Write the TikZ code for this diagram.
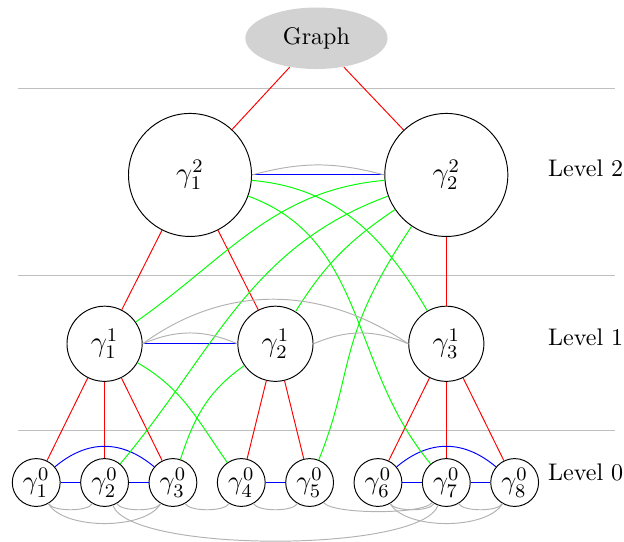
\documentclass[tikz,border=0pt]{standalone}
\usepackage{amsmath,amssymb}
\usetikzlibrary{positioning,shapes.geometric}

\begin{document}
\begin{tikzpicture}[
  lv0/.style={draw, circle, minimum size=0.7cm, inner sep=0pt, font=\fontsize{11}{13}\selectfont},
  lv1/.style={draw, circle, minimum size=1.1cm, inner sep=0pt, font=\large},
  lv2/.style={draw, circle, minimum size=1.8cm, inner sep=0pt, font=\large},
  redge/.style={red},
  bedge/.style={blue},
  gedge/.style={green},
  aedge/.style={gray!60},
  sep/.style={gray!50}]
  \useasboundingbox (-0.53,-0.86) rectangle (8.6,7.06);

  % levels
  \draw[sep] (-0.26,5.76) -- (8.47,5.76);
  \draw[sep] (-0.26,3.03) -- (8.47,3.03);
  \draw[sep] (-0.26,0.76) -- (8.47,0.76);

  \node[ellipse, fill=gray!35, minimum width=2.08cm, minimum height=0.9cm] (graph) at (4.1,6.5) {Graph};

  \node[lv2] (g12) at (2.25,4.5) {$\gamma^2_1$};
  \node[lv2] (g22) at (6,4.5) {$\gamma^2_2$};

  \node[lv1] (g11) at (1,2.03) {$\gamma^1_1$};
  \node[lv1] (g21) at (3.5,2.03) {$\gamma^1_2$};
  \node[lv1] (g31) at (6,2.03) {$\gamma^1_3$};

  \node[lv0] (g01) at (0,0) {$\gamma^0_1$};
  \node[lv0] (g02) at (1,0) {$\gamma^0_2$};
  \node[lv0] (g03) at (2,0) {$\gamma^0_3$};
  \node[lv0] (g04) at (3,0) {$\gamma^0_4$};
  \node[lv0] (g05) at (4,0) {$\gamma^0_5$};
  \node[lv0] (g06) at (5,0) {$\gamma^0_6$};
  \node[lv0] (g07) at (6,0) {$\gamma^0_7$};
  \node[lv0] (g08) at (7,0) {$\gamma^0_8$};

  \node (lab2) at (8.04,4.6) {Level 2};
  \node (lab1) at (8.04,2.13) {Level 1};
  \node (lab0) at (8.04,0.15) {Level 0};

  % tree
  \draw[redge] (graph) -- (g12);
  \draw[redge] (graph) -- (g22);
  \draw[redge] (g12) -- (g11);
  \draw[redge] (g12) -- (g21);
  \draw[redge] (g22) -- (g31);
  \draw[redge] (g11) -- (g01);
  \draw[redge] (g11) -- (g02);
  \draw[redge] (g11) -- (g03);
  \draw[redge] (g21) -- (g04);
  \draw[redge] (g21) -- (g05);
  \draw[redge] (g31) -- (g06);
  \draw[redge] (g31) -- (g07);
  \draw[redge] (g31) -- (g08);

  % same parent
  \draw[bedge] (g12) -- (g22);
  \draw[bedge] (g11) -- (g21);
  \draw[bedge] (g01) -- (g02);
  \draw[bedge] (g02) -- (g03);
  \draw[bedge] (g01) to[out=40, in=140, looseness=1.1] (g03);
  \draw[bedge] (g04) -- (g05);
  \draw[bedge] (g06) -- (g07);
  \draw[bedge] (g07) -- (g08);
  \draw[bedge] (g06) to[out=40, in=140, looseness=1.1] (g08);

  % across levels
  \draw[gedge] (g12) to[out=-5, in=120] (g31);
  \draw[gedge] (g12) to[out=-20, in=130] (g07);
  \draw[gedge] (g22) to[out=185, in=35] (g11);
  \draw[gedge] (g22) to[out=200, in=50] (g02);
  \draw[gedge] (g22) to[out=214, in=58] (g21);
  \draw[gedge] (g22) to[out=236, in=68, out looseness=1.4] (g05);
  \draw[gedge] (g11) to[out=-30, in=125] (g04);
  \draw[gedge] (g21) to[out=215, in=72] (g03);

  % weak links
  \draw[aedge] (g12.east) to[out=15, in=165] (g22.west);
  \draw[aedge] (g11.east) to[out=23, in=157] (g21.west);
  \draw[aedge] (g11.east) to[out=36, in=146] (g31.west);
  \draw[aedge] (g21.east) to[out=23, in=157] (g31.west);
  \draw[aedge] (g01) to[out=-60, in=-120, looseness=0.55] (g02);
  \draw[aedge] (g01) to[out=-60, in=-120, looseness=0.7] (g03);
  \draw[aedge] (g02) to[out=-60, in=-120, looseness=0.55] (g03);
  \draw[aedge] (g02) to[out=-70, in=-110, looseness=0.4] (g07);
  \draw[aedge] (g03) to[out=-60, in=-120, looseness=0.55] (g04);
  \draw[aedge] (g04) to[out=-60, in=-120, looseness=0.55] (g05);
  \draw[aedge] (g05) to[out=-55, in=-125, looseness=0.35] (g07);
  \draw[aedge] (g06) to[out=-60, in=-120, looseness=0.55] (g07);
  \draw[aedge] (g06) to[out=-60, in=-120, looseness=0.7] (g08);
  \draw[aedge] (g07) to[out=-60, in=-120, looseness=0.55] (g08);
\end{tikzpicture}
\end{document}
